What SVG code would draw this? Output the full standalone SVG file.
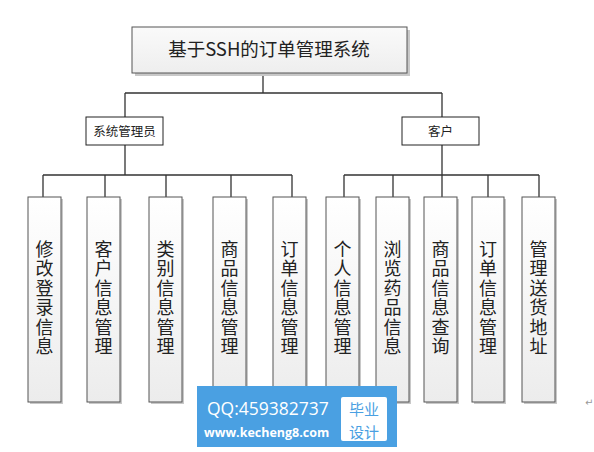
<svg xmlns="http://www.w3.org/2000/svg" width="594" height="452" viewBox="0 0 594 452">
<style>
.line{stroke:#333;stroke-width:1.3;fill:none}
.box{fill:url(#g);stroke:#555;stroke-width:1}
.shadow{fill:#c8c8c8}
.role{fill:#fff;stroke:#222;stroke-width:1}
.t{font-family:"Noto Sans CJK SC","Liberation Sans",sans-serif;fill:#222}
.vt{font-size:18px;writing-mode:vertical-rl;letter-spacing:1.5px}
</style>
<defs>
<linearGradient id="g" x1="0" y1="0" x2="0" y2="1">
<stop offset="0" stop-color="#ffffff"/>
<stop offset="1" stop-color="#ececec"/>
</linearGradient>
<linearGradient id="gt" x1="0" y1="0" x2="0" y2="1">
<stop offset="0" stop-color="#fafafa"/>
<stop offset="1" stop-color="#eeeeee"/>
</linearGradient>
</defs>
<rect width="594" height="452" fill="#fff"/>

<g id="connectors">
<path class="line" d="M263 73V93M125 93H442M125 93V117M442 93V117"/>
<path class="line" d="M125 145V175M43 175H292M43 175V197M105 175V197M166 175V197M231 175V197M292 175V197"/>
<path class="line" d="M442 145V175M344 175H539M344 175V197M393 175V197M442 175V197M488 175V197M539 175V197"/>
</g>

<g id="root">
<rect class="shadow" x="135" y="30" width="275" height="46"/>
<rect x="132" y="27" width="275" height="46" fill="url(#gt)" stroke="#555"/>
<text class="t" x="269" y="56" font-size="18.5" text-anchor="middle" fill="#333">基于SSH的订单管理系统</text>
</g>

<g id="admin">
<rect class="role" x="86" y="117" width="77" height="28"/>
<text class="t" x="124.5" y="135.5" font-size="12.5" text-anchor="middle">系统管理员</text>
</g>
<g id="customer">
<rect class="role" x="402" y="117" width="77" height="28"/>
<text class="t" x="440.5" y="135.5" font-size="12.5" text-anchor="middle">客户</text>
</g>

<g id="a1"><rect class="shadow" x="30" y="199" width="33" height="205"/><rect class="box" x="28" y="197" width="33" height="205"/>
<text class="t vt" x="44.5" y="240">修改登录信息</text></g>
<g id="a2"><rect class="shadow" x="89" y="199" width="33" height="205"/><rect class="box" x="87" y="197" width="33" height="205"/>
<text class="t vt" x="103.5" y="240">客户信息管理</text></g>
<g id="a3"><rect class="shadow" x="151" y="199" width="33" height="205"/><rect class="box" x="149" y="197" width="33" height="205"/>
<text class="t vt" x="165.5" y="240">类别信息管理</text></g>
<g id="a4"><rect class="shadow" x="215" y="199" width="33" height="205"/><rect class="box" x="213" y="197" width="33" height="205"/>
<text class="t vt" x="229.5" y="240">商品信息管理</text></g>
<g id="a5"><rect class="shadow" x="275" y="199" width="33" height="205"/><rect class="box" x="273" y="197" width="33" height="205"/>
<text class="t vt" x="289.5" y="240">订单信息管理</text></g>

<g id="c1"><rect class="shadow" x="328" y="199" width="33" height="205"/><rect class="box" x="326" y="197" width="33" height="205"/>
<text class="t vt" x="342.5" y="240">个人信息管理</text></g>
<g id="c2"><rect class="shadow" x="378" y="199" width="33" height="205"/><rect class="box" x="376" y="197" width="33" height="205"/>
<text class="t vt" x="392.5" y="240">浏览药品信息</text></g>
<g id="c3"><rect class="shadow" x="426" y="199" width="33" height="205"/><rect class="box" x="424" y="197" width="33" height="205"/>
<text class="t vt" x="440.5" y="240">商品信息查询</text></g>
<g id="c4"><rect class="shadow" x="474" y="199" width="32" height="205"/><rect class="box" x="472" y="197" width="32" height="205"/>
<text class="t vt" x="488" y="240">订单信息管理</text></g>
<g id="c5"><rect class="shadow" x="524" y="199" width="33" height="205"/><rect class="box" x="522" y="197" width="33" height="205"/>
<text class="t vt" x="538.5" y="240">管理送货地址</text></g>

<text x="585" y="406" font-family="DejaVu Sans,sans-serif" font-size="10" fill="#999">↵</text>

<g id="watermark">
<rect x="197" y="386" width="200" height="61" fill="#4aa0e2"/>
<text x="207" y="415" font-family="Open Sans,Liberation Sans,sans-serif" font-size="17.5" fill="#fff">QQ:459382737</text>
<text x="204" y="437" font-family="Open Sans,Liberation Sans,sans-serif" font-size="12.5" font-weight="bold" fill="#fff">www.kecheng8.com</text>
<rect x="341" y="397" width="46" height="44" rx="2" fill="#fff"/>
<text x="364" y="415" font-family="Noto Sans CJK SC,sans-serif" font-size="15" text-anchor="middle" fill="#4aa0e2">毕业</text>
<text x="364" y="437.5" font-family="Noto Sans CJK SC,sans-serif" font-size="15" text-anchor="middle" fill="#4aa0e2">设计</text>
</g>
</svg>
